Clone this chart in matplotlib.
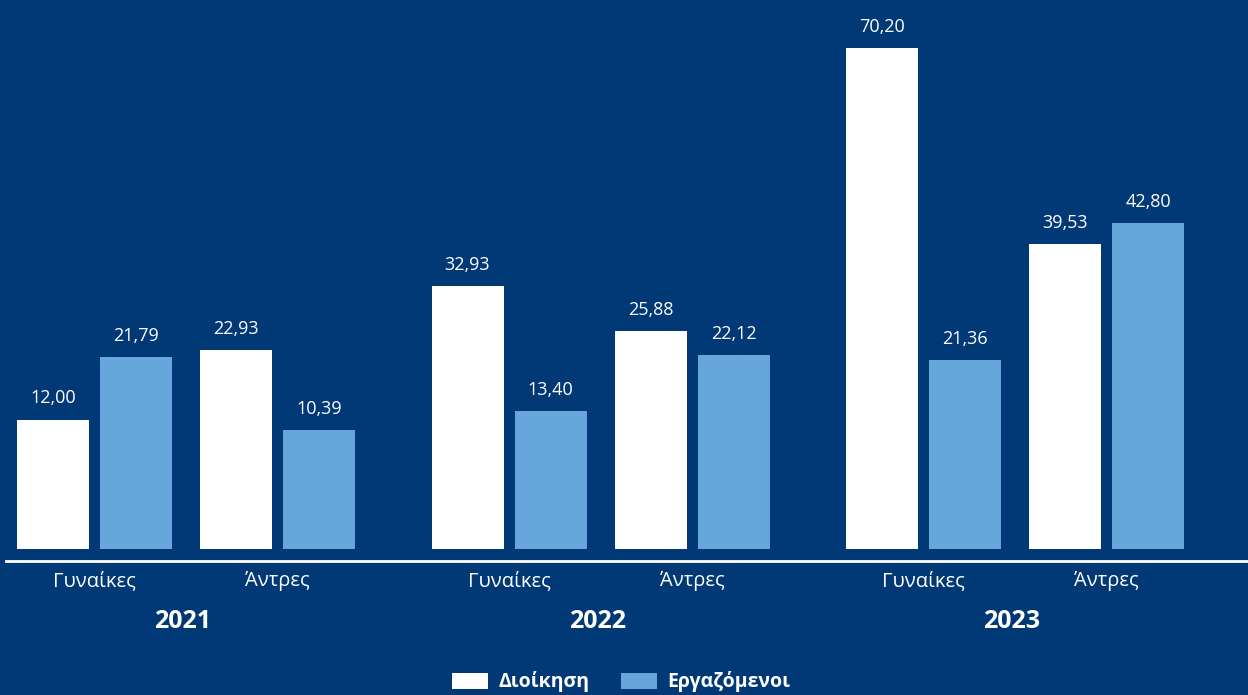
import numpy as np
import matplotlib
matplotlib.use("Agg")
import matplotlib.pyplot as plt
from matplotlib.transforms import blended_transform_factory

plt.rcParams['font.family'] = ['Open Sans', 'DejaVu Sans']

years = ['2021', '2022', '2023']
groups = ['Γυναίκες', 'Άντρες']
series = ['Διοίκηση', 'Εργαζόμενοι']
# values per year: [Γυναίκες, Άντρες]
dioikisi = [[12.00, 22.93], [32.93, 25.88], [70.20, 39.53]]
ergazomenoi = [[21.79, 10.39], [13.40, 22.12], [21.36, 42.80]]

bg = '#013876'
c_white = '#ffffff'
c_blue = '#66a6da'

fig = plt.figure(figsize=(12.48, 6.95), dpi=100, facecolor=bg)
ax = fig.add_axes([0, 146 / 695, 1, 549 / 695])
ax.set_facecolor(bg)

px = 414.5            # pixels per group
w = 72 / px
pair_off = 183 / px / 2
bar_off = 83 / px / 2
base = 8.2            # bars in the source start above zero
scale = 6.387         # pixels per unit

ax.set_xlim(-186 / px, -186 / px + 1248 / px)
ax.set_ylim(-base, 549 / scale - base)

fmt = lambda v: f'{v:.2f}'.replace('.', ',')
d = np.array(dioikisi)
e = np.array(ergazomenoi)
for i in range(len(years)):
    for j in range(len(groups)):
        xc = i + (j * 2 - 1) * pair_off
        b1 = ax.bar(xc - bar_off, d[i, j] + base, w, bottom=-base, color=c_white,
                    label=series[0] if i == 0 and j == 0 else None)
        b2 = ax.bar(xc + bar_off, e[i, j] + base, w, bottom=-base, color=c_blue,
                    label=series[1] if i == 0 and j == 0 else None)
        ax.bar_label(b1, labels=[fmt(d[i, j])], padding=9, color='white', fontsize=13)
        ax.bar_label(b2, labels=[fmt(e[i, j])], padding=9, color='white', fontsize=13)

tr = blended_transform_factory(ax.transData, fig.transFigure)
for i, y in enumerate(years):
    for j, g in enumerate(groups):
        xc = i + (j * 2 - 1) * pair_off
        ax.text(xc, (695 - 581) / 695, g, transform=tr, ha='center', va='center',
                color='white', fontsize=14.5)
    ax.text(i - 3 / px, (695 - 621) / 695, y, transform=tr, ha='center', va='center',
            color='white', fontsize=18, fontweight='bold')

fig.add_artist(plt.Line2D([6 / 1248, 1], [(695 - 561) / 695] * 2, color='white',
                          lw=2, transform=fig.transFigure))

ax.axis('off')

leg = fig.legend(loc='center', bbox_to_anchor=(621 / 1248, (695 - 682) / 695), ncol=2,
                 frameon=False, fontsize=14, handlelength=1.85, handleheight=0.9,
                 handletextpad=0.55, columnspacing=1.6)
for t in leg.get_texts():
    t.set_color('white')
    t.set_fontweight('bold')

fig.savefig('out.png', dpi=100, facecolor=bg)
